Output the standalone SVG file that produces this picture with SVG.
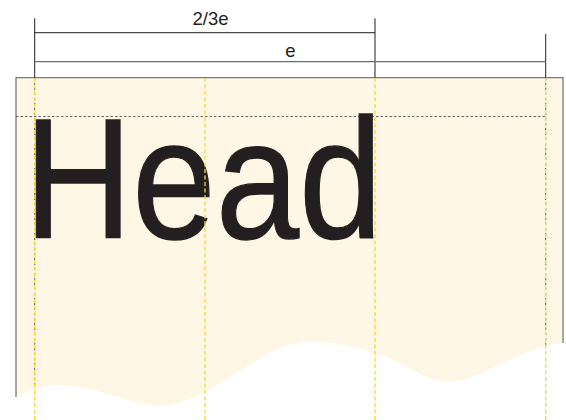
<svg xmlns="http://www.w3.org/2000/svg" width="566" height="420" viewBox="0 0 566 420">
<style>
.lbl{font-family:"Liberation Sans",Arial,sans-serif;font-size:18.5px;fill:#231f20;text-anchor:middle}
.head{font-family:"Liberation Sans",Arial,sans-serif;font-size:170px;fill:#231f20;stroke:#231f20;stroke-width:1.3}
.dim{stroke:#231f20;stroke-width:1;fill:none}
.dim2{stroke:#6d6d6d;stroke-width:1.3;fill:none}
.border{stroke:#7a7a7a;stroke-width:1.3;fill:none}
.yel{stroke:#ffd52e;stroke-width:1.3;stroke-dasharray:4 2.5;fill:none}
.dk{stroke:#4a4a4a;stroke-width:0.9;stroke-dasharray:2 3;fill:none}
</style>
<g id="page">
<path d="M16,397 C28,390 42,385 58,385 C95,385 135,406 159,406 C200,406 250,358 289,345 C300,342 308,341.7 314,341.7 C340,342 365,350 376,353 C405,362 425,382 448,382 C480,382 525,345 563,343 V77.7 H16 Z" fill="#fff7e5"/>
<polyline class="border" points="16,397 16,77.7 563,77.7 563,343"/>
</g>
<g id="baseline-guide">
<line x1="16" y1="116.5" x2="545.7" y2="116.5" stroke="#555" stroke-width="0.9" stroke-dasharray="2.5 2"/>
</g>
<g id="head-text">
<text class="head" transform="translate(24,237.8) scale(0.882,1)" x="0" y="0">Head</text>
</g>
<g id="columns">
<line class="dk" x1="34.7" y1="78" x2="34.7" y2="388"/>
<line class="dk" x1="545.7" y1="78" x2="545.7" y2="346"/>
<line class="yel" x1="34.7" y1="78" x2="34.7" y2="420"/>
<line class="yel" x1="205" y1="78" x2="205" y2="420"/>
<line class="yel" x1="375" y1="78" x2="375" y2="420"/>
<line class="yel" x1="545.7" y1="78" x2="545.7" y2="420"/>
</g>
<g id="dimensions">
<line class="dim" x1="34.7" y1="18.3" x2="34.7" y2="77.7"/>
<line class="dim" x1="375" y1="18.3" x2="375" y2="77.7"/>
<line class="dim" x1="545.7" y1="34" x2="545.7" y2="77.7"/>
<line class="dim" x1="34.7" y1="32.7" x2="375" y2="32.7"/>
<line class="dim2" x1="34.7" y1="61.7" x2="545.7" y2="61.7"/>
<text class="lbl" x="210.5" y="25.3">2/3e</text>
<text class="lbl" x="290.5" y="56.5">e</text>
</g>
</svg>
